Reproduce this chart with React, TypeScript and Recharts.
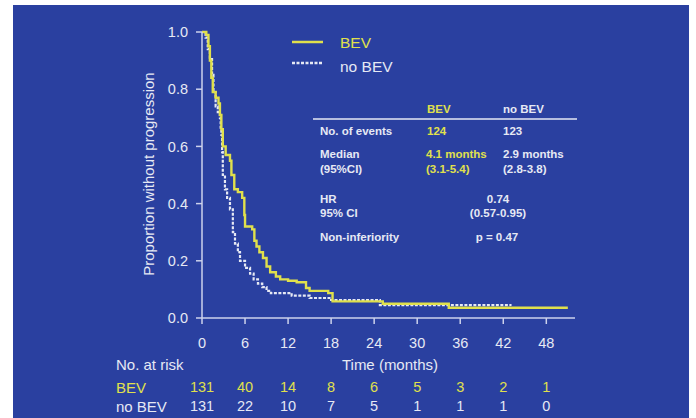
import React from "react";
import { LineChart, Line, XAxis, YAxis, Customized } from "recharts";

// ---- data ----
const bevTimes = [0, 0.6, 0.9, 1.1, 1.3, 1.5, 1.9, 2.3, 2.5, 2.7, 2.9, 3.3, 3.9, 4.1, 4.5, 5.0, 5.6, 5.9, 6.0, 7.0, 7.3, 7.6, 8.0, 8.5, 9.0, 9.5, 10.3, 10.9, 12.0, 13.2, 14.5, 15.0, 17.6, 18.2, 25.2, 34.4, 51];
const bevSurv = [1.0, 0.99, 0.95, 0.9, 0.84, 0.79, 0.77, 0.75, 0.71, 0.66, 0.6, 0.57, 0.55, 0.5, 0.45, 0.44, 0.42, 0.36, 0.32, 0.31, 0.27, 0.25, 0.23, 0.21, 0.18, 0.16, 0.145, 0.135, 0.13, 0.125, 0.105, 0.095, 0.087, 0.058, 0.05, 0.036, 0.036];
const noBevTimes = [0, 0.5, 0.8, 1.1, 1.4, 1.6, 1.9, 2.2, 2.5, 2.6, 2.7, 2.8, 2.9, 3.2, 3.5, 3.9, 4.3, 4.6, 5.0, 5.3, 6.0, 6.7, 7.2, 7.8, 8.4, 9.0, 9.6, 12.5, 15.0, 18.0, 24.8, 43];
const noBevSurv = [1.0, 0.98, 0.94, 0.91, 0.85, 0.79, 0.74, 0.72, 0.7, 0.66, 0.64, 0.58, 0.5, 0.45, 0.42, 0.38, 0.3, 0.26, 0.23, 0.2, 0.175, 0.155, 0.135, 0.12, 0.108, 0.095, 0.087, 0.078, 0.07, 0.063, 0.045, 0.042];

const xTicks = [0, 6, 12, 18, 24, 30, 36, 42, 48];
const yTicks = [0, 0.2, 0.4, 0.6, 0.8, 1.0];
const riskBev = [131, 40, 14, 8, 6, 5, 3, 2, 1];
const riskNoBev = [131, 22, 10, 7, 5, 1, 1, 1, 0];

const seriesNames = ["BEV", "no BEV"];
const tableHeaders = ["BEV", "no BEV"];
const eventsRow = ["No. of events", "124", "123"];
const medianRow = ["Median", "4.1 months", "2.9 months"];
const medianCiRow = ["(95%CI)", "(3.1-5.4)", "(2.8-3.8)"];
const hrRow = ["HR", "0.74"];
const hrCiRow = ["95% CI", "(0.57-0.95)"];
const nonInfRow = ["Non-inferiority", "p = 0.47"];

const bevData = bevTimes.map((t, i) => ({ t, s: bevSurv[i] }));
const noBevData = noBevTimes.map((t, i) => ({ t, s: noBevSurv[i] }));

// ---- style ----
const BG = "#2a40a0";
const YELLOW = "#e0e04c";
const WHITE = "#e6e9f4";
const AXIS = "#cdd2ec";
const FONT = "'Liberation Sans', Arial, sans-serif";

const XTick = (props: any) => {
  const { x, payload } = props;
  const i = xTicks.indexOf(payload.value);
  return (
    <g fontFamily={FONT}>
      <text x={x} y={348} textAnchor="middle" fill={WHITE} fontSize={14.5}>{payload.value}</text>
      <text x={x} y={392} textAnchor="middle" fill={YELLOW} fontSize={14.5}>{riskBev[i]}</text>
      <text x={x} y={411} textAnchor="middle" fill={WHITE} fontSize={14.5}>{riskNoBev[i]}</text>
    </g>
  );
};

const Overlay = () => (
  <g fontFamily={FONT}>
    <text x={154} y={174} transform="rotate(-90 154 174)" textAnchor="middle" fill={WHITE} fontSize={15}>Proportion without progression</text>
    <text x={390} y={370} textAnchor="middle" fill={WHITE} fontSize={15}>Time (months)</text>
    <text x={116} y={370} fill={WHITE} fontSize={15}>No. at risk</text>
    <text x={116} y={393} fill={YELLOW} fontSize={15}>{seriesNames[0]}</text>
    <text x={116} y={412} fill={WHITE} fontSize={15}>{seriesNames[1]}</text>
    <line x1={292} x2={323} y1={42} y2={42} stroke={YELLOW} strokeWidth={2.5} />
    <text x={340} y={48} fill={YELLOW} fontSize={15.5}>{seriesNames[0]}</text>
    <line x1={292} x2={323} y1={63} y2={63} stroke={WHITE} strokeWidth={2.5} strokeDasharray="3 1.5" />
    <text x={340} y={72} fill={WHITE} fontSize={15.5}>{seriesNames[1]}</text>
    <g fontSize={11.5} fontWeight="bold">
      <text x={427} y={113} fill={YELLOW}>{tableHeaders[0]}</text>
      <text x={503} y={113} fill={WHITE}>{tableHeaders[1]}</text>
      <line x1={313} x2={577} y1={119} y2={119} stroke={WHITE} strokeWidth={1.5} />
      <text x={320} y={135} fill={WHITE}>{eventsRow[0]}</text>
      <text x={427} y={135} fill={YELLOW}>{eventsRow[1]}</text>
      <text x={503} y={135} fill={WHITE}>{eventsRow[2]}</text>
      <text x={320} y={158} fill={WHITE}>{medianRow[0]}</text>
      <text x={426} y={158} fill={YELLOW}>{medianRow[1]}</text>
      <text x={503} y={158} fill={WHITE}>{medianRow[2]}</text>
      <text x={320} y={173} fill={WHITE}>{medianCiRow[0]}</text>
      <text x={426} y={173} fill={YELLOW}>{medianCiRow[1]}</text>
      <text x={503} y={173} fill={WHITE}>{medianCiRow[2]}</text>
      <text x={320} y={203} fill={WHITE}>{hrRow[0]}</text>
      <text x={498} y={203} fill={WHITE} textAnchor="middle">{hrRow[1]}</text>
      <text x={320} y={217} fill={WHITE}>{hrCiRow[0]}</text>
      <text x={498} y={217} fill={WHITE} textAnchor="middle">{hrCiRow[1]}</text>
      <text x={320} y={241} fill={WHITE}>{nonInfRow[0]}</text>
      <text x={497} y={241} fill={WHITE} textAnchor="middle">{nonInfRow[1]}</text>
    </g>
  </g>
);

export default function App() {
  return (
    <div style={{ position: "absolute", left: 0, top: 0, width: 696, height: 418, background: "#ffffff", overflow: "hidden" }}>
      <div style={{ position: "absolute", left: 13, top: 5, width: 676, height: 413, background: BG }} />
      <div style={{ position: "absolute", left: 0, top: 0 }}>
        <LineChart width={696} height={418} margin={{ top: 32, right: 121, bottom: 70, left: 0 }}>
          <XAxis
            type="number"
            dataKey="t"
            domain={[0, 52]}
            ticks={xTicks}
            allowDataOverflow
            height={30}
            stroke={AXIS}
            strokeWidth={1.5}
            tickSize={6}
            tick={<XTick />}
            interval={0}
          />
          <YAxis
            type="number"
            dataKey="s"
            domain={[0, 1]}
            ticks={yTicks}
            width={202}
            stroke={AXIS}
            strokeWidth={1.5}
            tickSize={6}
            tickMargin={8}
            tickFormatter={(v: number) => v.toFixed(1)}
            tick={{ fill: WHITE, fontSize: 14.5, fontFamily: FONT }}
            interval={0}
          />
          <Line data={noBevData} dataKey="s" type="stepAfter" stroke={WHITE} strokeWidth={2.2} strokeDasharray="3 1.5" dot={false} isAnimationActive={false} name={seriesNames[1]} />
          <Line data={bevData} dataKey="s" type="stepAfter" stroke={YELLOW} strokeWidth={2.4} dot={false} isAnimationActive={false} name={seriesNames[0]} />
          <Customized component={<Overlay />} />
        </LineChart>
      </div>
    </div>
  );
}
